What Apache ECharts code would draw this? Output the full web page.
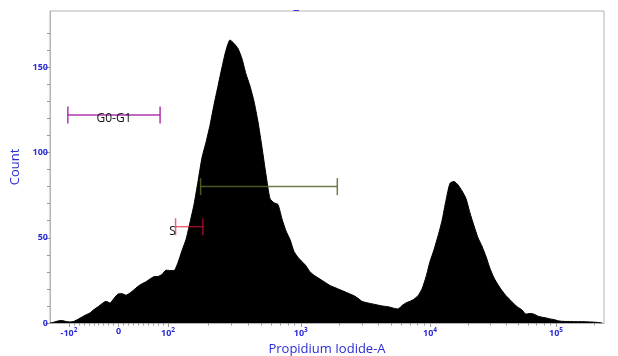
<!DOCTYPE html>
<html><head><meta charset="utf-8">
<script src="https://cdn.jsdelivr.net/npm/echarts@6/dist/echarts.min.js"></script>
<style>html,body{margin:0;padding:0;background:#fff}#c{width:618px;height:356px}</style>
</head><body><div id="c"></div>
<script>
// ---- Data ----
// Histogram counts, one per display-channel bin (bins are uniform on the display scale)
const binWidth = 4;
const counts = [
0,0.5,1.2,1.4,0.9,0.6,1.0,2.2,3.5,4.8,
5.9,7.9,9.5,11.3,12.7,11.7,14.5,17.0,17.2,16.3,
17.6,19.5,21.5,23.0,24.2,25.8,27.2,27.3,28.5,31.0,
30.8,30.8,35.5,42.5,49,59,69.5,83,97,106,
116,128,139,150,160,166,164,161,155,146,
139,130,118,103,87,73,70.5,69.5,61,54,
49,42,38.5,36,33.5,30,28,26.5,25,23.5,
22,21,20,19,18,17,16,14.5,12.7,12,
11.5,11,10.5,10,9.7,9.3,8.6,8.2,10.2,11.8,
12.7,14,16,20,27,36,43,51,60,72,
82,83,81,77.5,73,64.5,57,50,45,39,
32,26.5,22.5,19,16,13.7,11.2,9.2,7.6,5.2,
5.6,5.2,4.0,3.4,3.0,2.4,2.0,1.3,1.0,0.9,
0.9,0.8,0.8,0.8,0.7,0.6,0.5,0.3,0
];
// X axis tick values (Propidium Iodide-A), labels
const majorTickValues = [-100, 0, 100, 1000, 10000, 100000];
const majorTickLabels = ['-10{sup|2}', '0', '10{sup|2}', '10{sup|3}', '10{sup|4}', '10{sup|5}'];
const minorTickValues = [-90,-80,-70,-60,-50,-40,-30,-20,-10,10,20,30,40,50,60,70,80,90,
  200,300,400,500,600,700,800,900,2000,3000,4000,5000,6000,7000,8000,9000,
  20000,30000,40000,50000,60000,70000,80000,90000,200000];
// Y axis ticks
const yLabelValues = [0, 50, 100, 150];
const yMinorValues = [10,20,30,40,60,70,80,90,110,120,130,140,160,170];
// Gates
const gateNames = ['G0-G1', '', 'S'];
const gateLow = [-102, 176, 114];
const gateHigh = [84, 1917, 183];
const gateCount = [122, 80, 56.5];

// ---- Display scale (biexponential-like): value -> display channel ----
const chMax = 554;
const zeroCh = 68.5, linSlope = 0.495;
const logAnchors = [[2, 118], [3, 250.8], [4, 380], [5, 506]];
function posCh(v) {
  const L = Math.log10(v);
  for (let i = 0; i < logAnchors.length - 1; i++) {
    const a = logAnchors[i], b = logAnchors[i + 1];
    if (L <= b[0] || i === logAnchors.length - 2) {
      return a[1] + (L - a[0]) * (b[1] - a[1]) / (b[0] - a[0]);
    }
  }
}
function toChannel(v) {
  if (Math.abs(v) <= 100) return zeroCh + v * linSlope;
  if (v > 0) return posCh(v);
  return 2 * zeroCh - posCh(-v);
}
const majorCh = majorTickValues.map(toChannel);
const minorCh = minorTickValues.map(toChannel);

const blue = '#2b2bd8';
const axisGrey = '#b4b4b4';
const gateStyles = {
  'G0-G1': { color: 'rgba(160,20,160,0.85)', anchor: 'center', dx: 0, dy: 4 },
  '':      { color: 'rgba(85,105,40,0.85)', anchor: 'center', dx: 0, dy: 4 },
  'S':     { color: 'rgba(220,20,60,0.65)', anchor: 'start', dx: -3, dy: 5 }
};

const chart = echarts.init(document.getElementById('c'), null, { renderer: 'canvas' });
chart.setOption({
  animation: false,
  backgroundColor: '#fff',
  title: { text: '–', left: 288, top: -1, textStyle: { color: blue, fontSize: 13, fontWeight: 'normal', fontFamily: 'Open Sans' } },
  grid: { left: 50, right: 14, top: 11, bottom: 33, outerBoundsMode: 'none', containLabel: false,
    show: true, borderColor: axisGrey, borderWidth: 1, backgroundColor: 'transparent' },
  xAxis: [{
    type: 'value', min: 0, max: chMax, position: 'bottom',
    name: 'Propidium Iodide-A', nameLocation: 'middle', nameGap: 18,
    nameTextStyle: { color: blue, fontSize: 13, fontFamily: 'Open Sans' },
    axisLine: { show: true, lineStyle: { color: axisGrey } },
    splitLine: { show: false },
    axisTick: { show: true, length: 4, customValues: majorCh, lineStyle: { color: '#999' } },
    axisLabel: {
      customValues: majorCh, margin: 4, color: blue, fontSize: 9, fontFamily: 'Open Sans', fontWeight: 'bold',
      formatter: function (val) {
        for (let i = 0; i < majorCh.length; i++) if (Math.abs(majorCh[i] - val) < 0.01) return majorTickLabels[i];
        return '';
      },
      rich: { sup: { fontSize: 6.5, color: blue, fontWeight: 'bold', fontFamily: 'Open Sans', padding: [0, 0, 5, 0] } }
    }
  }, {
    type: 'value', min: 0, max: chMax, position: 'bottom', gridIndex: 0,
    axisLine: { show: false }, splitLine: { show: false }, axisLabel: { show: false },
    axisTick: { show: true, length: 2.5, customValues: minorCh, lineStyle: { color: '#999' } }
  }],
  yAxis: [{
    type: 'value', min: 0, max: 183,
    name: 'Count', nameLocation: 'middle', nameGap: 27,
    nameTextStyle: { color: blue, fontSize: 13, fontFamily: 'Open Sans' },
    axisLine: { show: true, lineStyle: { color: axisGrey } },
    splitLine: { show: false },
    axisTick: { show: true, length: 5, customValues: yLabelValues, lineStyle: { color: '#999' } },
    axisLabel: { customValues: yLabelValues, margin: 2, color: blue, fontSize: 9, fontFamily: 'Open Sans', fontWeight: 'bold' }
  }, {
    type: 'value', min: 0, max: 183, position: 'left', gridIndex: 0,
    axisLine: { show: false }, splitLine: { show: false }, axisLabel: { show: false },
    axisTick: { show: true, length: 3, customValues: yMinorValues, lineStyle: { color: '#999' } }
  }],
  series: [{
    type: 'line', xAxisIndex: 0, yAxisIndex: 0,
    data: counts.map((c, i) => [i * binWidth, c]),
    symbol: 'none', smooth: 0.2,
    lineStyle: { color: '#000', width: 1 },
    areaStyle: { color: '#000', opacity: 1 },
    z: 2
  }, {
    type: 'custom', xAxisIndex: 0, yAxisIndex: 0, z: 5,
    encode: { x: [0, 1], y: 2 },
    data: gateNames.map((n, i) => [toChannel(gateLow[i]), toChannel(gateHigh[i]), gateCount[i]]),
    renderItem: function (params, api) {
      const name = gateNames[params.dataIndex];
      const st = gateStyles[name];
      const p1 = api.coord([api.value(0), api.value(2)]);
      const p2 = api.coord([api.value(1), api.value(2)]);
      const h = 8.5;
      const ls = { stroke: st.color, lineWidth: 1.5 };
      const children = [
        { type: 'line', shape: { x1: p1[0], y1: p1[1], x2: p2[0], y2: p2[1] }, style: ls },
        { type: 'line', shape: { x1: p1[0], y1: p1[1] - h, x2: p1[0], y2: p1[1] + h }, style: ls },
        { type: 'line', shape: { x1: p2[0], y1: p2[1] - h, x2: p2[0], y2: p2[1] + h }, style: ls }
      ];
      if (name) {
        const tx = st.anchor === 'center' ? (p1[0] + p2[0]) / 2 : p1[0];
        children.push({ type: 'text', x: tx + st.dx, y: p1[1] + st.dy,
          style: { text: name, fill: '#111', fontSize: 12, fontFamily: 'Open Sans', align: 'center', verticalAlign: 'middle' } });
      }
      return { type: 'group', children: children };
    }
  }]
});
</script>
</body></html>
